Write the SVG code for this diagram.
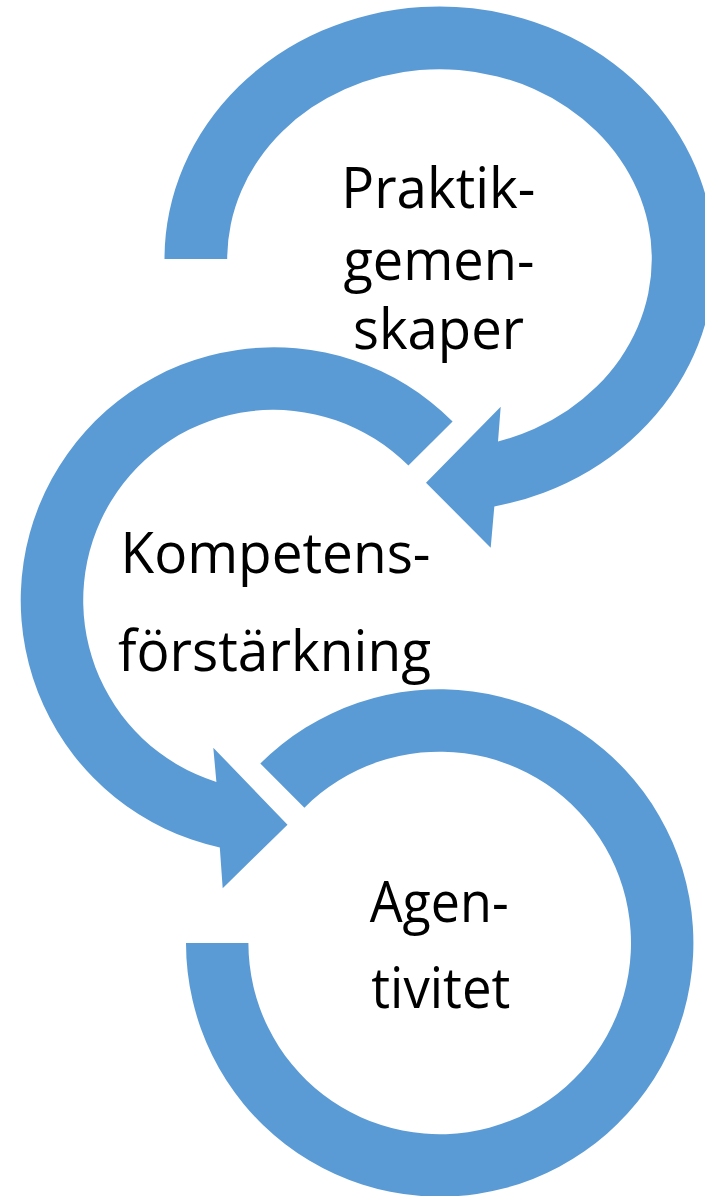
<svg xmlns="http://www.w3.org/2000/svg" width="705" height="1196" viewBox="0 0 705 1196">
  <style>
    .ring { fill: #5B9BD5; stroke: none; }
    .lbl { font-family: "Open Sans", "Noto Sans", "Liberation Sans", sans-serif; font-size: 56px; fill: #000000; text-anchor: middle; }
  </style>
  <rect width="705" height="1196" fill="#FFFFFF"/>
  <g id="connectors">
    <path id="arrow-1" class="ring" d="M 164.5 259 A 275 252.5 0 1 1 494.33 506.43 L 490.7 547.7 L 426 482.7 L 500.7 406.7 L 498.02 441.45 A 212.3 189.8 0 1 0 227.2 259 Z"/>
    <path id="arrow-2" class="ring" d="M 452.6 421.4 A 253 253 0 1 0 219.8 847.5 L 222.7 888.3 L 287.5 824.7 L 213.3 747.7 L 216.4 782.0 A 190.5 190.5 0 1 1 408.4 465.6 Z"/>
    <path id="arc-3" class="ring" d="M 260.3 763.6 A 253.7 253.7 0 1 1 186 943 L 248.4 943 A 191.3 191.3 0 1 0 304.4 807.7 Z"/>
  </g>
  <g id="node-praktikgemenskaper">
    <text class="lbl" x="438.3" y="208.3" textLength="194" lengthAdjust="spacingAndGlyphs">Praktik-</text>
    <text class="lbl" x="438.9" y="280" textLength="191" lengthAdjust="spacingAndGlyphs">gemen-</text>
    <text class="lbl" x="438.5" y="349" textLength="171" lengthAdjust="spacingAndGlyphs">skaper</text>
  </g>
  <g id="node-kompetensforstarkning">
    <text class="lbl" x="275.5" y="573.3" textLength="310" lengthAdjust="spacingAndGlyphs">Kompetens-</text>
    <text class="lbl" x="274.5" y="670.7" textLength="313" lengthAdjust="spacingAndGlyphs">förstärkning</text>
  </g>
  <g id="node-agentivitet">
    <text class="lbl" x="439.2" y="921.7" textLength="139" lengthAdjust="spacingAndGlyphs">Agen-</text>
    <text class="lbl" x="440.8" y="1008.3" textLength="139" lengthAdjust="spacingAndGlyphs">tivitet</text>
  </g>
</svg>
